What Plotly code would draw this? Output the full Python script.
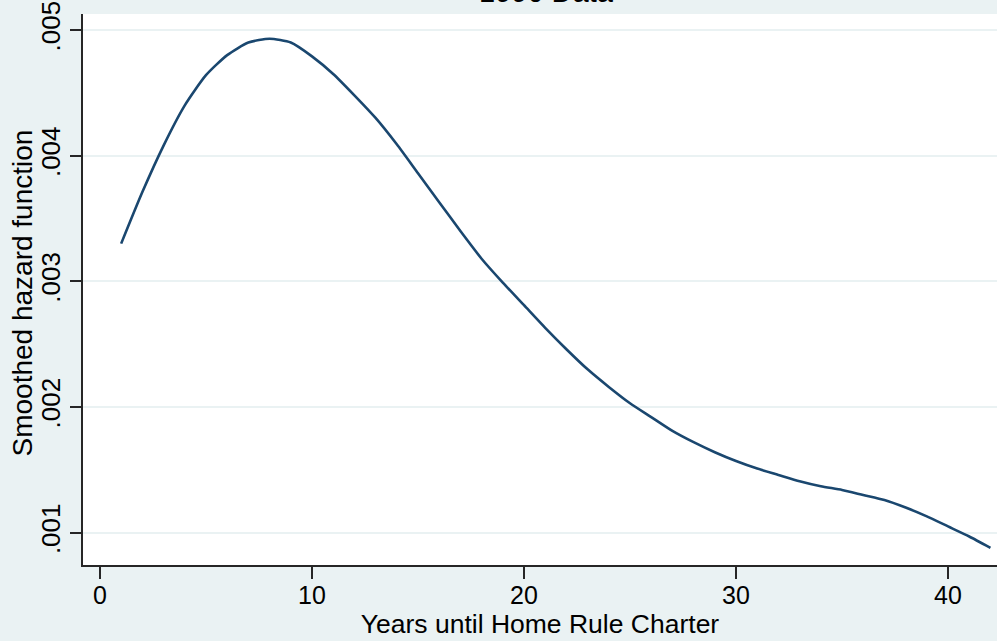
import plotly.graph_objects as go

# Smoothed hazard estimate by years until home rule charter (1990 data)
years = list(range(1, 43))
hazard = [
    0.00330, 0.00371, 0.00408, 0.00440, 0.00464, 0.00480, 0.00490, 0.00493,
    0.00490, 0.00479, 0.00465, 0.00448, 0.00430, 0.00409, 0.00386, 0.00363,
    0.00340, 0.00318, 0.00299, 0.00281, 0.00263, 0.00246, 0.00230, 0.00216,
    0.00203, 0.00192, 0.00181, 0.00172, 0.00164, 0.00157, 0.00151, 0.00146,
    0.00141, 0.00137, 0.00134, 0.00130, 0.00126, 0.00120, 0.00113, 0.00105,
    0.00097, 0.00088,
]

x_ticks = [0, 10, 20, 30, 40]
y_ticks = [0.001, 0.002, 0.003, 0.004, 0.005]
y_tick_text = [".001", ".002", ".003", ".004", ".005"]

title_text = "1990 Data"
x_title = "Years until Home Rule Charter"
y_title = "Smoothed hazard function"

FONT = "Liberation Sans, Arial, Helvetica, sans-serif"
BG = "#EAF2F3"
LINE = "#1A476F"
AXIS = "#262626"

fig = go.Figure()
fig.add_trace(go.Scatter(
    x=years, y=hazard, mode="lines",
    line=dict(color=LINE, width=2.6, shape="spline", smoothing=0.6),
    hoverinfo="x+y", showlegend=False,
))

fig.update_layout(
    width=997, height=641,
    margin=dict(l=83, r=0, t=14, b=76),
    paper_bgcolor=BG, plot_bgcolor="white",
    font=dict(family=FONT, color="black"),
    annotations=[
        dict(
            text=title_text, xref="paper", yref="paper",
            x=0.507, y=1.008, xanchor="center", yanchor="bottom",
            showarrow=False, font=dict(size=29, family=FONT, color="black"),
        ),
        # vertical y-axis title placed in the left margin
        dict(
            text=y_title, xref="paper", yref="paper", textangle=-90,
            x=-0.066, y=0.494, xanchor="center", yanchor="middle",
            showarrow=False, font=dict(size=28, family=FONT, color="black"),
        ),
    ],
)

fig.update_xaxes(
    range=[-0.80, 42.31], tickvals=x_ticks,
    showgrid=False, zeroline=False,
    showline=True, linecolor=AXIS, linewidth=1.5,
    ticks="outside", ticklen=12, tickwidth=1.5, tickcolor=AXIS,
    ticklabelstandoff=-5,
    tickfont=dict(size=25, family=FONT, color="black"),
    title=dict(text=x_title, font=dict(size=26.5, family=FONT, color="black"), standoff=0),
)
fig.update_yaxes(
    range=[0.000743, 0.005127], tickvals=y_ticks, ticktext=y_tick_text,
    tickangle=-90,
    showgrid=True, gridcolor=BG, gridwidth=2, zeroline=False,
    showline=True, linecolor=AXIS, linewidth=1.5,
    ticks="outside", ticklen=11, tickwidth=1.5, tickcolor=AXIS,
    tickfont=dict(size=26, family=FONT, color="black"),
)

fig.write_html("out.html")
